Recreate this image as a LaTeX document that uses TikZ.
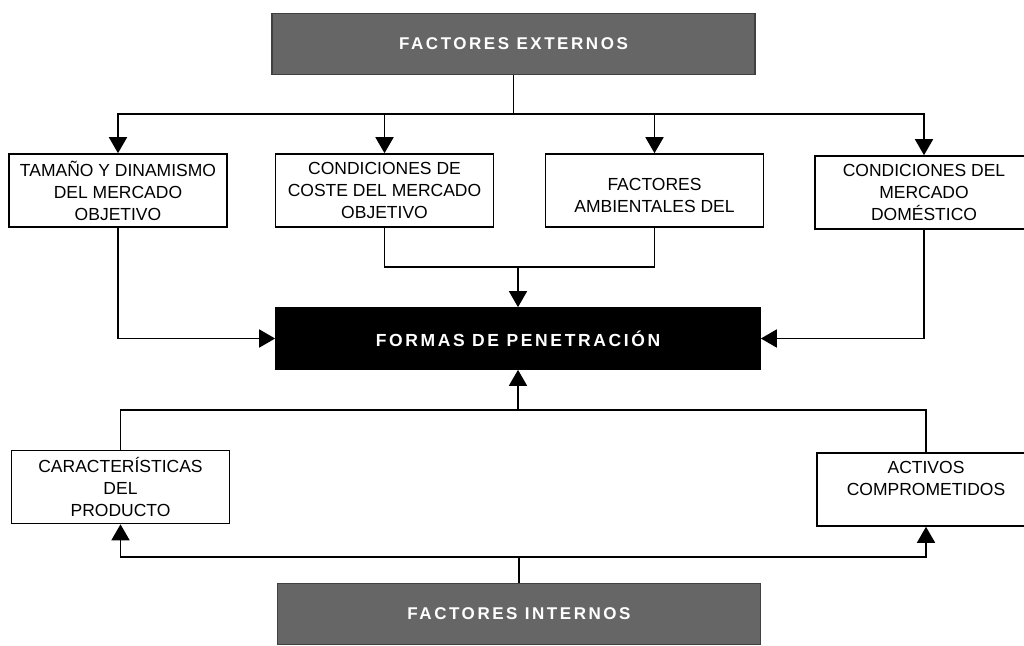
\documentclass[tikz,border=0pt]{standalone}
\usepackage{fontspec}
\setmainfont{Liberation Sans}
\newfontfamily\rotulo[LetterSpace=15]{Liberation Sans}
\usepackage{tikz}
\usetikzlibrary{arrows.meta, positioning}

\tikzset{
	caja/.style={draw, line width=1.6pt, fill=white, inner sep=0pt, align=center,
		minimum width=218pt, minimum height=73pt, font=\fontsize{17.5}{22}\selectfont},
	factor/.style={draw=black!75, fill=black!60, text=white, inner sep=0pt,
		minimum width=483pt, minimum height=61pt, font=\fontsize{17}{20}\rotulo\bfseries},
	forma/.style={draw, fill=black, text=white, inner sep=0pt,
		minimum width=484pt, minimum height=61pt, font=\fontsize{17.5}{20}\rotulo\bfseries}
}

\begin{document}
\begin{tikzpicture}[x=1pt, y=-1pt, >={Triangle[width=18pt,length=16pt]}, line width=1.7pt]
			\useasboundingbox (0,0) rectangle (1024,645);
			\node[factor] (ext) at (513.5,44) {FACTORES EXTERNOS};
			\node[caja] (tam) at (118,190.5) {TAMAÑO Y DINAMISMO\\DEL MERCADO\\OBJETIVO};
			\node[caja] (cos) at (384.5,190.5) {CONDICIONES DE\\COSTE DEL MERCADO\\OBJETIVO};
			\node[caja] (amb) at (654.5,190.5) {\mbox{}\\FACTORES\\AMBIENTALES DEL};
			\node[caja] (dom) at (924,192.5) {CONDICIONES DEL\\MERCADO\\DOMÉSTICO};
			\node[forma] (pen) at (518,338.5) {FORMAS DE PENETRACIÓN};
			\node[caja] (pro) at (120.5,487) {CARACTERÍSTICAS\\DEL\\PRODUCTO};
			\node[caja] (act) at (926,489.5) {ACTIVOS\\COMPROMETIDOS\\\mbox{}};
			\node[factor] (int) at (519,614) {FACTORES INTERNOS};
			\coordinate (bext) at (513.5,114);
			\coordinate (bmed) at (518,267);
			\coordinate (bsup) at (518,410);
			\coordinate (bint) at (519,557);
			% factores externos
			\draw (ext) -- (bext);
			\draw[->] (bext) -| (tam);
			\draw[->] (bext) -| (cos);
			\draw[->] (bext) -| (amb);
			\draw[->] (bext) -| (dom);
			% hacia formas de penetracion
			\draw (cos) |- (bmed);
			\draw (amb) |- (bmed);
			\draw[->] (bmed) -- (pen);
			\draw[->] (tam) |- (pen);
			\draw[->] (dom) |- (pen);
			\draw (pro) |- (bsup);
			\draw (act) |- (bsup);
			\draw[->] (bsup) -- (pen);
			% factores internos
			\draw (int) -- (bint);
			\draw[->] (bint) -| (pro);
			\draw[->] (bint) -| (act);
		\end{tikzpicture}
\end{document}
